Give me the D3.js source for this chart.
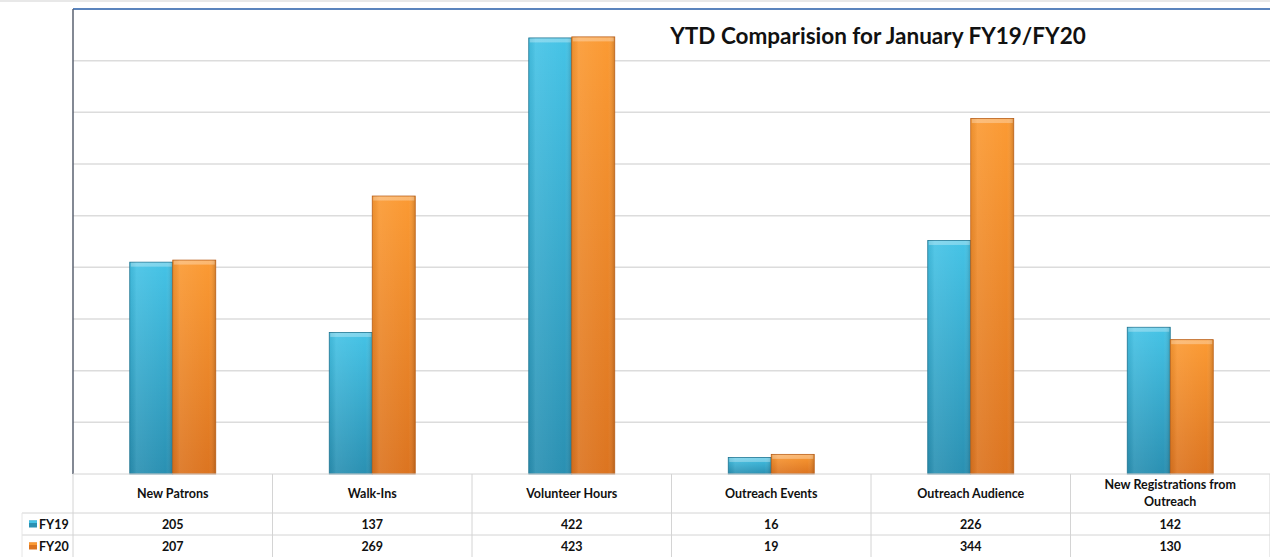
<!DOCTYPE html>
<html><head><meta charset="utf-8">
<script src="https://cdn.jsdelivr.net/npm/d3@7"></script>
<style>body{margin:0;background:#fff;} svg{display:block;font-family:Lato,"Open Sans",sans-serif;}</style>
</head><body>
<svg id="c" width="1270" height="557"></svg>
<script>
const categories = ["New Patrons","Walk-Ins","Volunteer Hours","Outreach Events","Outreach Audience","New Registrations from Outreach"];
const seriesNames = ["FY19","FY20"];
const fy19 = [205,137,422,16,226,142];
const fy20 = [207,269,423,19,344,130];
const yTicks = [0,50,100,150,200,250,300,350,400,450];
const title = "YTD Comparision for January FY19/FY20";

const svg = d3.select("#c");
const L=73, R=1270, T=9, B=474;
const x = d3.scaleBand().domain(categories).range([L,R]);
const y = d3.scaleLinear().domain([0,450]).range([B,T]);
const xs = d3.scaleBand().domain(seriesNames).range([0,x.bandwidth()]).paddingInner(0).paddingOuter(1.32);

svg.append("rect").attr("x",0).attr("y",0).attr("width",1270).attr("height",2).attr("fill","#e8e8e8");

const defs = svg.append("defs");
const cols = {FY19:["#45c3e6","#2a90b2","#1f7390"],FY20:["#fb9a33","#dc7420","#b85d17"]};
seriesNames.forEach(s=>{
  const g = defs.append("linearGradient").attr("id","g"+s).attr("x1",0).attr("x2",0).attr("y1",0).attr("y2",1);
  g.append("stop").attr("offset","0%").attr("stop-color",cols[s][0]);
  g.append("stop").attr("offset","100%").attr("stop-color",cols[s][1]);
  const h = defs.append("linearGradient").attr("id","h"+s).attr("x1",0).attr("x2",1);
  h.append("stop").attr("offset","0%").attr("stop-color","#000").attr("stop-opacity",0.05);
  h.append("stop").attr("offset","15%").attr("stop-color","#fff").attr("stop-opacity",0.08);
  h.append("stop").attr("offset","85%").attr("stop-color","#fff").attr("stop-opacity",0);
  h.append("stop").attr("offset","100%").attr("stop-color","#000").attr("stop-opacity",0.15);
});

svg.append("g").selectAll("line").data(yTicks.filter(d=>d>0)).join("line")
  .attr("x1",L).attr("x2",R).attr("y1",d=>y(d)).attr("y2",d=>y(d))
  .attr("stroke",d=>d===450?"#5b84bd":"#dcdcdc").attr("stroke-width",d=>d===450?2:1.5);

svg.append("line").attr("x1",L).attr("x2",L).attr("y1",T).attr("y2",B).attr("stroke","#5a6270").attr("stroke-width",1.5);

svg.append("text").attr("x",878).attr("y",44).attr("text-anchor","middle")
  .attr("font-size",22.5).attr("font-weight","bold").attr("fill","#111").text(title);

const data = seriesNames.map((s,i)=>({s, vals:[fy19,fy20][i]}));
data.forEach(d=>{
  const g = svg.append("g");
  const bars = g.selectAll("g").data(categories.map((c,j)=>({c,v:d.vals[j]}))).join("g")
    .attr("transform",e=>`translate(${x(e.c)+xs(d.s)},0)`);
  bars.append("rect").attr("x",0).attr("y",e=>y(e.v)).attr("width",xs.bandwidth()).attr("height",e=>B-y(e.v))
    .attr("fill",`url(#g${d.s})`).attr("stroke",cols[d.s][2]).attr("stroke-width",0.8);
  bars.append("rect").attr("x",0.5).attr("y",e=>y(e.v)).attr("width",xs.bandwidth()-1).attr("height",e=>B-y(e.v))
    .attr("fill",`url(#h${d.s})`);
  bars.append("rect").attr("x",1).attr("y",e=>y(e.v)+0.5).attr("width",xs.bandwidth()-2).attr("height",e=>Math.min(4,B-y(e.v)))
    .attr("fill","#fff").attr("opacity",0.3);
});

const tb = svg.append("g");
const rowY = [B, 513, 535, 557];
tb.append("g").selectAll("line").data(categories.map(c=>x(c)+x.bandwidth())).join("line")
  .attr("x1",d=>d).attr("x2",d=>d).attr("y1",B).attr("y2",557).attr("stroke","#d4d4d4");
tb.append("line").attr("x1",L).attr("x2",L).attr("y1",B).attr("y2",557).attr("stroke","#d4d4d4");
[513,535].forEach(yy=>tb.append("line").attr("x1",22).attr("x2",R).attr("y1",yy).attr("y2",yy).attr("stroke","#d4d4d4"));
tb.append("line").attr("x1",L).attr("x2",R).attr("y1",B).attr("y2",B).attr("stroke","#d4d4d4");
tb.append("line").attr("x1",22).attr("x2",22).attr("y1",513).attr("y2",557).attr("stroke","#e6e6e6");

const fs = 12.5;
categories.forEach(c=>{
  const cx = x(c)+x.bandwidth()/2;
  const words = c==="New Registrations from Outreach" ? ["New Registrations from","Outreach"] : [c];
  const t = tb.append("text").attr("text-anchor","middle").attr("font-size",fs).attr("font-weight","bold").attr("fill","#111");
  if(words.length===1){ t.attr("x",cx).attr("y",498).text(c); }
  else { words.forEach((w,k)=>t.append("tspan").attr("x",cx).attr("y",489+k*17).text(w)); }
});
[fy19,fy20].forEach((vals,i)=>{
  const yy = (rowY[i+1]+rowY[i+2])/2+4.5;
  categories.forEach((c,j)=>{
    tb.append("text").attr("x",x(c)+x.bandwidth()/2).attr("y",yy).attr("text-anchor","middle")
      .attr("font-size",fs).attr("font-weight","bold").attr("fill","#111").text(vals[j]);
  });
  tb.append("rect").attr("x",29).attr("y",yy-8).attr("width",8).attr("height",7).attr("fill",cols[seriesNames[i]][1]);
  tb.append("rect").attr("x",29).attr("y",yy-8).attr("width",8).attr("height",2.5).attr("fill",cols[seriesNames[i]][0]);
  tb.append("text").attr("x",39).attr("y",yy).attr("font-size",fs).attr("font-weight","bold").attr("fill","#111").text(seriesNames[i]);
});
</script>
</body></html>
